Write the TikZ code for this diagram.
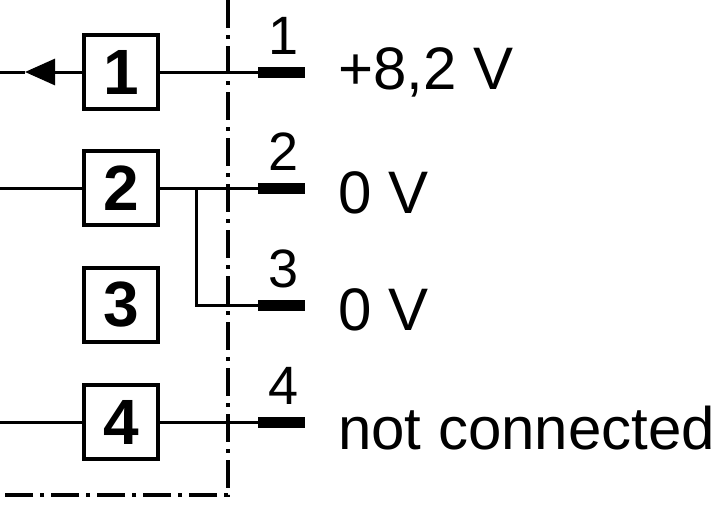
\documentclass[tikz,border=0pt]{standalone}
\usepackage{fontspec}
\setmainfont{Liberation Sans}
\usetikzlibrary{arrows.meta}
\begin{document}
\begin{tikzpicture}[x=1pt,y=-1pt,
  box/.style={draw,line width=3.5pt,minimum size=74pt,inner sep=0pt,font=\fontsize{64}{64}\selectfont\bfseries},
  wire/.style={line width=3pt},
  term/.style={line width=11pt},
  lbl/.style={font=\fontsize{60}{60}\selectfont,anchor=west,inner sep=0pt},
  num/.style={font=\fontsize{54}{54}\selectfont,inner sep=0pt}]
\useasboundingbox (0,0) rectangle (720,506);
\draw[line width=3.5pt,dash pattern=on 28pt off 7pt on 4pt off 7pt] (228,0) -- (228,495) -- (0,495);
\foreach \i/\y in {1/72,2/188,3/305,4/422}{
  \node[box] (b\i) at (121,\y) {\i};
  \coordinate (t\i) at (258,\y);
  \coordinate (e\i) at (305,\y);
  \draw[term] (t\i) -- (e\i);
  \node[num] (n\i) at (284,\y-36) {\i};
}
\coordinate (l1) at (0,72);\coordinate (l2) at (0,188);\coordinate (l4) at (0,422);
\draw[wire] (b1.east) -- (t1);
\draw[wire,{Triangle[length=30pt,width=26pt]}-] (25,72) -- (b1.west);
\draw[wire] (l1) -- (25,72);
\draw[wire] (l2) -- (b2.west);
\draw[wire] (b2.east) -- (t2);
\coordinate (br) at (196,188);
\draw[wire] (br) |- (t3);
\draw[wire] (l4) -- (b4.west);
\draw[wire] (b4.east) -- (t4);
\node[lbl] (v1) at (338,72) {+8,2 V};
\node[lbl] (v2) at (338,193) {0 V};
\node[lbl] (v3) at (338,310) {0 V};
\node[lbl] (v4) at (338,428) {not connected};
\end{tikzpicture}
\end{document}
